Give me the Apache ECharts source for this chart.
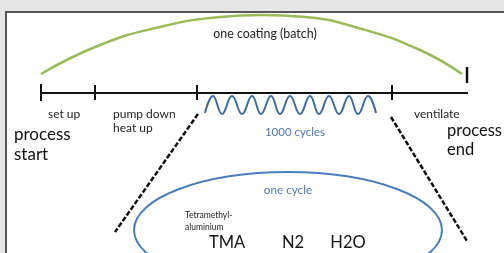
<!DOCTYPE html>
<html>
<head>
<meta charset="utf-8">
<script src="https://cdn.jsdelivr.net/npm/echarts@6/dist/echarts.min.js"></script>
<style>
  html, body { margin: 0; padding: 0; background: #e6e6e6; }
  #main { width: 504px; height: 253px; }
</style>
</head>
<body>
<div id="main"></div>
<script>
// points (pixel-like coordinates, y grows downward)
var coatingArc = [[41, 74], [100, 45], [160, 27], [220, 17], [262, 15], [305, 17], [362, 29], [420, 50], [462, 74]];
var timeline = [[41, 93], [468, 93]];
var tickX = [41, 95, 197, 392];
var endMark = [[467, 67], [467, 83]];
var wave = [[205, 113], [213, 96], [222, 114], [232, 96], [242, 114], [252, 96], [261, 114], [271, 96], [280, 114],
            [290, 96], [300, 114], [310, 96], [319, 114], [329, 96], [339, 114], [349, 96], [358, 114], [368, 96], [376, 113]];
var dashLeft = [[198, 114], [115, 232]];
var dashRight = [[391, 117], [467, 241]];
var cycleEllipse = [[288, 230, 154, 58]]; // cx, cy, rx, ry

var labels = [
  { text: 'one coating (batch)', x: 265, y: 34, size: 12.4, color: '#222', align: 'center' },
  { text: 'set up', x: 48, y: 114, size: 12, color: '#222', align: 'left' },
  { text: 'pump down', x: 113, y: 114, size: 12, color: '#222', align: 'left' },
  { text: 'heat up', x: 113, y: 128, size: 12, color: '#222', align: 'left' },
  { text: 'ventilate', x: 414, y: 114, size: 12, color: '#222', align: 'left' },
  { text: 'process', x: 14, y: 135, size: 17, color: '#111', align: 'left' },
  { text: 'start', x: 14, y: 155, size: 17, color: '#111', align: 'left' },
  { text: 'process', x: 447, y: 131, size: 16.5, color: '#111', align: 'left' },
  { text: 'end', x: 447, y: 150, size: 16.5, color: '#111', align: 'left' },
  { text: '1000 cycles', x: 295, y: 132, size: 11.5, color: '#4f79b3', align: 'center' },
  { text: 'one cycle', x: 288, y: 190, size: 11.7, color: '#4f79b3', align: 'center' },
  { text: 'Tetramethyl-', x: 185, y: 215, size: 8.5, color: '#222', align: 'left' },
  { text: 'aluminium', x: 185, y: 227, size: 8.5, color: '#222', align: 'left' },
  { text: 'TMA', x: 227, y: 243, size: 16.5, color: '#111', align: 'center' },
  { text: 'N2', x: 293, y: 243, size: 16.5, color: '#111', align: 'center' },
  { text: 'H2O', x: 348, y: 243, size: 16.5, color: '#111', align: 'center' }
];

var chart = echarts.init(document.getElementById('main'));
var FONT = 'Lato, "Open Sans", sans-serif';

function seg(data, color, width, type) {
  return {
    type: 'line', data: data, symbol: 'none', silent: true,
    lineStyle: { color: color, width: width, type: type || 'solid', cap: 'butt' }
  };
}

var series = [
  Object.assign(seg(coatingArc, '#9bbb59', 2.5), { smooth: 0.5 }),
  seg(timeline, '#111', 2),
  seg(endMark, '#111', 2.5),
  Object.assign(seg(wave, '#3f6a9e', 2), { smooth: 0.45 }),
  seg(dashLeft, '#111', 2.5, [5, 2]),
  seg(dashRight, '#111', 2.5, [5, 2]),
  {
    type: 'custom', silent: true, data: cycleEllipse,
    renderItem: function (params, api) {
      var c = api.coord([api.value(0), api.value(1)]);
      var s = api.size([api.value(2), api.value(3)]);
      return {
        type: 'ellipse',
        shape: { cx: c[0], cy: c[1], rx: s[0], ry: s[1] },
        style: { fill: null, stroke: '#4a7ebb', lineWidth: 2 }
      };
    }
  }
];
tickX.forEach(function (x, i) {
  series.push(seg([[x, i === 0 ? 84 : 85], [x, i === 0 ? 101 : 100]], '#111', 2));
});

var graphics = [
  { type: 'rect', z: -10, shape: { x: 6, y: 12, width: 510, height: 260 },
    style: { fill: '#fff', stroke: '#555', lineWidth: 2 } }
];
labels.forEach(function (l) {
  graphics.push({
    type: 'text', x: l.x, y: l.y, z: 10,
    style: { text: l.text, fill: l.color, font: l.size + 'px ' + FONT,
             textAlign: l.align, textVerticalAlign: 'middle' }
  });
});

chart.setOption({
  animation: false,
  grid: { left: 0, right: 0, top: 0, bottom: 0 },
  xAxis: { type: 'value', min: 0, max: 504, show: false },
  yAxis: { type: 'value', min: 0, max: 253, inverse: true, show: false },
  graphic: graphics,
  series: series
});
</script>
</body>
</html>
